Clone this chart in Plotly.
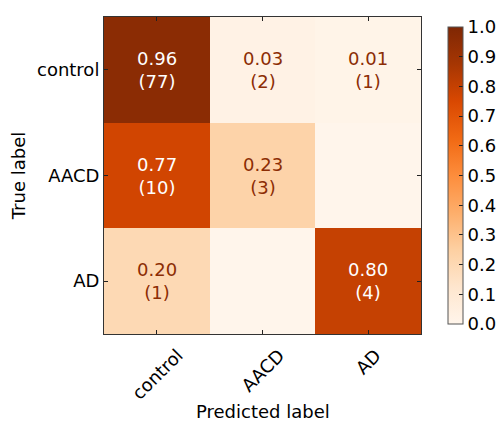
import plotly.graph_objects as go

labels = ["control", "AACD", "AD"]
counts = [
    [77, 2, 1],
    [10, 3, 0],
    [1, 0, 4],
]
colorbar_ticks = [0.0, 0.1, 0.2, 0.3, 0.4, 0.5, 0.6, 0.7, 0.8, 0.9, 1.0]

norm = [[c / sum(row) for c in row] for row in counts]

FONT = "DejaVu Sans"
W, H = 500, 421
L, R, T, B = 104, 79, 17, 87
PH = H - T - B
fig = go.Figure()
fig.add_trace(go.Heatmap(
    z=norm, x=labels, y=labels, colorscale="Oranges", zmin=0, zmax=1,
    xgap=0, ygap=0, hoverinfo="skip",
    colorbar=dict(
        x=(448 - L) / (W - L - R), xanchor="left", xpad=0,
        y=0.5, yanchor="middle",
        len=1.0, lenmode="fraction", thickness=15,
        outlinewidth=1, outlinecolor="#555",
        tickvals=colorbar_ticks, tickformat=".1f",
        ticks="inside", ticklen=4, tickcolor="#222",
        tickfont=dict(family=FONT, size=18, color="black"),
    ),
))

annotations = []
for i, ylab in enumerate(labels):
    for j, xlab in enumerate(labels):
        if counts[i][j] == 0:
            continue
        v = norm[i][j]
        color = "white" if v > 0.5 else "#8c2d04"
        annotations.append(dict(
            x=xlab, y=ylab, xref="x", yref="y",
            text=f"{v:.2f}<br>({counts[i][j]})", showarrow=False,
            font=dict(family=FONT, size=18, color=color),
        ))

# rotated x tick labels centred under their ticks (matplotlib style)
for xlab in labels:
    annotations.append(dict(
        x=xlab, xref="x", y=-8 / PH, yref="paper",
        text=xlab, textangle=-45, showarrow=False,
        xanchor="center", yanchor="top",
        font=dict(family=FONT, size=18, color="black"),
    ))

annotations.append(dict(
    x=0.5, xref="paper", y=-(411 - (H - B)) / PH, yref="paper",
    text="Predicted label", showarrow=False, xanchor="center", yanchor="middle",
    font=dict(family=FONT, size=18, color="black"),
))

fig.update_layout(
    width=W, height=H,
    margin=dict(l=L, r=R, t=T, b=B, autoexpand=False),
    paper_bgcolor="white", plot_bgcolor="white",
    annotations=annotations,
    font=dict(family=FONT, size=18, color="black"),
    xaxis=dict(
        ticks="inside", ticklen=4, tickcolor="#222",
        showline=True, linecolor="#333", linewidth=1, mirror="ticks",
        showticklabels=False, automargin=False,
        showgrid=False, zeroline=False,
    ),
    yaxis=dict(
        autorange="reversed", ticks="inside", ticklen=4, tickcolor="#222",
        showline=True, linecolor="#333", linewidth=1, mirror="ticks",
        tickfont=dict(family=FONT, size=18), automargin=False,
        title=dict(text="True label", font=dict(family=FONT, size=18), standoff=6),
        showgrid=False, zeroline=False,
    ),
)

fig.write_html("out.html", config={"displayModeBar": False},
               post_script="document.body.style.margin='0';")
